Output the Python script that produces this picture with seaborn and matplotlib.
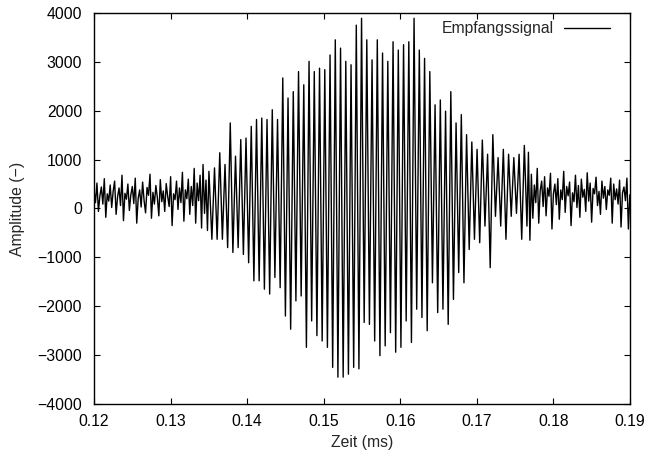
import numpy as np
import pandas as pd
import matplotlib
matplotlib.use("Agg")
import matplotlib.pyplot as plt
import seaborn as sns

# ---- data ----
t_start_ms = 0.12
burst_start_ms = 0.1354
burst_dt_ms = 0.000343
t_end_ms = 0.19

noise_left = [380, 120, 520, -60, 260, 440, 90, 610, -180, 300, 150, 480, 20, 350, 560, -120,
              240, 420, 60, 680, -250, 310, 190, 500, -40, 280, 450, 100, 620, -300, 210, 380,
              30, 540, 160, -90, 430, 270, 700, -200, 330, 90, 470, 220, -150, 590, 140, 360,
              -60, 510, 250, 40, 650, -350, 300, 180, 560, -20, 420, 120, 740, -260, 380, 200,
              600, -120, 450, 60, 820, -300, 520, 160, 680, -400, 900, -100, 580, -450, 760, 50]

burst_a = [-630, 830, -630, 1140, -630, 900, -800, 1750, -900, 1070, -800, 1410, -940, 1440,
           -1110, 1680, -1480, 1820, -1480, 1850, -1650, 1820, -1750, 2020, -1410, 1820,
           -1620, 2670, -2200, 2260]

burst_b = [-2470, 2390, -1890, 2800, -1790, 2530, -2840, 3010, -2300, 2800, -2600, 2870,
           -2710, 2840, -2840, 3140, -3250, 3450, -3450, 3280, -3450, 3010, -3390, 2940,
           -3250, 3750, -3280, 3890, -2330, 3450, -2370, 3040]

burst_c = [-2710, 3450, -3010, 3180, -2810, 3010, -2540, 3410, -2940, 3240, -2840, 3350,
           -2300, 3410, -2740, 3890, -2060, 3240, -2230, 3070, -2500, 2800, -1520, 2120,
           -2130, 2220, -2060, 1990, -2370, 2390, -1860, 1750, -1310]

burst_d = [1920, -1520, 1510, -840, 1360, -630, 1210, -700, 1400, -360, 1110, -1210, 1510,
           -160, 1040, -360, 1210, -630, 1110, -160, 1040, -100, 1110, -630, 1290, -360]

noise_right = [1150, -650, 700, -200, 480, 120, 820, -300, 360, 560, 40, 650, -150, 420, 250,
               720, -420, 300, 500, 80, 610, -220, 380, 180, 760, -80, 450, 260, 540, -350,
               320, 140, 680, 20, 470, -180, 600, 230, 390, -60, 730, 150, 520, -280, 410,
               300, 640, 60, 350, -120, 560, 210, 450, -20, 380, 270, 620, -300, 500, 180,
               400, 90, 580, -380, 320, 440, 160, 620, -420, 280]

x_ticks = [0.12, 0.13, 0.14, 0.15, 0.16, 0.17, 0.18, 0.19]
y_ticks = [-4000, -3000, -2000, -1000, 0, 1000, 2000, 3000, 4000]

burst = burst_a + burst_b + burst_c + burst_d
burst_end_ms = burst_start_ms + burst_dt_ms * (len(burst) - 1)
t_left = np.linspace(t_start_ms, burst_start_ms, len(noise_left), endpoint=False)
t_burst = burst_start_ms + burst_dt_ms * np.arange(len(burst))
t_right = np.linspace(t_end_ms, burst_end_ms, len(noise_right), endpoint=False)[::-1]

df = pd.DataFrame({
    "Zeit": np.concatenate([t_left, t_burst, t_right]),
    "Amplitude": noise_left + burst + noise_right,
})

# ---- style ----
sns.set_style("ticks")
plt.rcParams["font.family"] = ["Liberation Sans", "DejaVu Sans"]
plt.rcParams["axes.unicode_minus"] = True
fs = 11.3

fig = plt.figure(figsize=(6.46, 4.55), dpi=100)
ax = fig.add_axes([0.1455, 0.112, 0.8295, 0.8596])

sns.lineplot(data=df, x="Zeit", y="Amplitude", ax=ax, color="black", lw=1.0,
             label="Empfangssignal", estimator=None, sort=False)

ax.set_xlim(t_start_ms, t_end_ms)
ax.set_ylim(-4000, 4000)
ax.set_xticks(x_ticks)
ax.set_xticklabels([f"{v:.2f}" for v in x_ticks])
ax.set_yticks(y_ticks)
ax.set_yticklabels([f"{v}".replace("-", "\u2212") for v in y_ticks])

ax.tick_params(direction="in", length=4.5, width=0.8, top=True, right=True,
               labelsize=fs, colors="black")
ax.tick_params(axis="y", pad=8.5)
ax.tick_params(axis="x", pad=7.5)
for sp in ax.spines.values():
    sp.set_visible(True)
    sp.set_linewidth(1.0)
    sp.set_color("black")

ax.set_xlabel("Zeit (ms)", fontsize=fs, labelpad=4)
ax.set_ylabel("Amplitude (\u2212)", fontsize=fs, labelpad=9)

leg = ax.legend(loc="upper right", bbox_to_anchor=(0.9745, 0.995), frameon=False,
                markerfirst=False, fontsize=fs, handlelength=2.9, borderaxespad=0.0,
                handletextpad=0.65)

fig.savefig("out.png", dpi=100)
